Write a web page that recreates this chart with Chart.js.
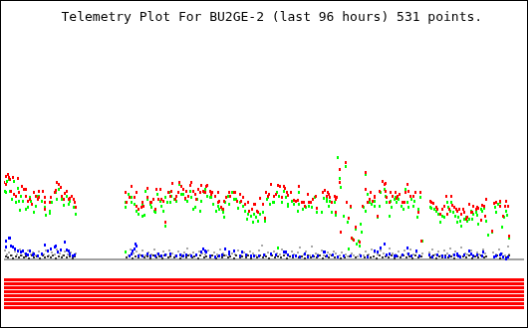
<!DOCTYPE html>
<html lang="en">
<head>
    <meta charset="UTF-8">
    <title>Telemetry Plot For BU2GE-2</title>
    <script src="https://cdn.jsdelivr.net/npm/chart.js"></script>
    <style>
        body {
            margin: 0;
            padding: 0;
            background: #fff;
        }
        #telemetryChart {
            display: block;
            border: 1px solid #000;
            background: #fff;
        }
    </style>
</head>
<body>
    <canvas id="telemetryChart" width="528" height="328"></canvas>

    <script>
        // Telemetry readings, [hours, value]
        const redChannel = [
            [0.0,7.8],[0.4,7.6],[0.4,8.4],[0.7,8.6],[0.9,8.3],[1.1,8.1],[1.3,6.9],[1.6,8.3],[1.8,6.6],[2.2,6.4],
            [2.5,8.2],[2.7,6.8],[3.3,7.4],[3.6,7.1],[4.0,7.1],[4.0,6.4],[4.4,5.9],[4.7,6.1],[5.1,5.6],[5.6,6.8],
            [5.8,6.4],[6.2,6.1],[6.4,6.9],[6.5,6.3],[7.1,6.9],[7.5,5.8],[7.6,6.3],[7.6,5.1],[8.4,5.8],[8.7,6.3],
            [9.3,6.8],[9.5,7.0],[9.8,7.8],[10.2,7.6],[10.4,7.3],[10.7,6.4],[11.1,6.1],[11.3,6.7],[11.6,6.9],[12.0,6.1],
            [12.2,6.2],[12.5,6.4],[12.9,6.1],[13.1,5.8],[13.3,5.3],
            [22.5,6.8],[22.7,5.8],[23.1,6.3],[23.5,7.4],[24.0,6.3],[24.4,6.8],[24.5,5.4],[24.9,5.1],[25.3,5.3],[25.6,5.8],
            [25.8,5.4],[26.4,7.2],[26.5,6.3],[27.1,5.8],[27.3,5.8],[27.6,6.1],[28.0,5.1],[28.2,7.1],[28.5,6.1],[28.9,7.1],
            [29.1,6.1],[29.5,5.9],[29.8,3.8],[30.4,6.8],[30.7,6.4],[30.9,6.9],[31.1,7.7],[31.6,6.1],[31.8,6.4],[32.2,6.8],
            [32.4,7.8],[32.7,7.4],[33.1,7.1],[33.5,6.2],[33.6,6.9],[34.0,6.4],[34.4,7.5],[34.5,7.8],[34.9,6.9],[35.3,6.6],
            [35.5,6.1],[35.8,7.1],[36.2,6.8],[36.4,7.5],[36.7,6.9],[37.1,6.8],[37.3,7.4],[37.6,7.5],[38.0,6.9],[38.2,6.6],
            [38.5,6.8],[38.9,6.4],[39.5,5.8],[39.6,6.8],[39.8,5.9],[40.0,5.3],[40.4,5.1],
            [40.7,5.9],[41.1,6.3],[41.5,6.8],[41.8,6.4],[42.4,6.8],[42.7,6.8],[43.1,5.9],[43.5,6.6],[43.8,5.9],[44.2,6.3],
            [44.5,5.6],[45.1,5.8],[45.3,4.9],[45.8,5.1],[46.2,5.6],[46.4,5.6],[46.7,4.9],[46.9,4.8],[47.3,6.2],[47.8,5.6],
            [48.2,4.2],[48.4,6.8],[48.7,6.4],[48.9,6.6],[49.3,7.6],[49.8,6.4],[50.2,6.6],[50.5,7.5],[50.9,7.4],[51.3,6.3],
            [51.6,7.4],[51.8,7.2],[52.2,6.8],[52.5,6.5],[52.9,6.8],[53.5,6.0],[53.8,5.9],[54.2,6.0],[54.5,7.4],[54.9,5.8],
            [55.3,5.8],[55.6,5.4],[56.0,6.6],[56.2,5.8],[56.7,5.8],[57.1,6.1],[57.5,6.4],[57.8,5.2],[58.9,6.8],[59.3,7.0],
            [59.5,6.4],[59.8,6.8],[60.0,6.6],[60.2,6.3],[60.5,5.8],[61.1,6.4],[61.3,6.1],[61.3,4.8],[61.5,6.3],[62.0,9.1],
            [62.0,7.8],[62.2,2.8],[63.1,9.8],[63.3,5.8],[63.6,4.2],[64.0,5.4],[64.2,2.2],[64.5,2.0],[64.9,3.3],[65.6,1.8],
            [66.2,5.4],[66.7,8.8],[66.7,7.1],[67.1,5.8],[67.5,6.1],[67.6,6.8],[68.0,5.9],[68.4,6.3],[68.5,6.4],[68.9,4.4],
            [69.3,6.9],[69.8,7.9],[70.2,7.6],[70.4,7.7],[70.4,6.9],[70.7,6.3],[71.1,5.8],[71.3,6.8],[71.8,6.4],[72.2,6.8],
            [72.4,6.2],[72.7,6.4],[73.1,6.6],[73.6,5.8],[74.0,5.8],[74.2,6.8],[74.5,7.6],[74.7,6.9],[75.1,6.4],[75.6,6.4],
            [76.0,6.8],[76.5,4.8],[76.9,6.8],[77.1,1.9],
            [78.7,5.9],[78.9,5.8],[79.3,5.7],[79.8,5.3],[80.0,5.1],[80.5,4.6],[80.9,5.1],[81.3,5.4],[81.6,6.4],[81.8,4.6],
            [82.2,5.1],[82.5,6.4],[82.7,5.5],[83.1,5.3],[83.5,5.1],[83.6,4.9],[84.0,5.1],[84.4,4.6],[84.7,5.1],[84.9,4.8],
            [85.3,4.1],[85.5,4.3],[85.8,5.6],[86.2,4.8],[86.4,4.8],[86.7,5.4],[87.1,5.1],[87.3,5.3],[87.6,5.2],[88.0,4.0],
            [88.2,5.5],[88.7,5.4],[88.9,4.4],[89.1,6.1],[90.2,2.9],[90.5,5.7],[90.9,5.8],[91.5,5.9],[91.6,5.4],[92.2,4.4],
            [92.5,5.4],[92.7,5.9],[93.1,5.4],[93.3,2.4]
        ];

        const greenChannel = [
            [0.2,6.9],[0.4,6.8],[0.5,7.9],[0.9,8.1],[1.1,6.9],[1.5,6.1],[1.8,7.9],[2.2,5.8],[2.5,7.2],[2.7,5.9],
            [2.9,5.0],[3.1,6.4],[3.5,5.9],[4.0,5.1],[4.4,5.3],[4.7,6.3],[4.9,5.9],[5.5,4.8],[5.8,5.4],[6.2,6.4],
            [6.5,6.4],[6.9,5.9],[7.5,5.3],[7.8,4.5],[8.4,4.9],[8.5,4.7],[8.9,5.8],[9.5,6.8],[9.8,6.1],[10.2,7.1],
            [10.7,6.1],[11.1,5.5],[11.6,6.4],[12.0,5.6],[12.2,5.9],[12.9,5.3],[13.3,4.6],
            [22.4,0.8],[22.5,5.3],[22.5,5.8],[22.9,6.6],[23.5,6.3],[23.6,5.8],[24.0,5.6],[24.5,4.9],[24.9,4.6],[25.5,4.4],
            [25.5,5.5],[26.0,4.5],[26.2,6.9],[26.5,6.1],[27.1,5.6],[27.3,5.3],[27.8,4.9],[28.0,4.8],[28.4,6.6],[28.9,5.9],
            [29.1,5.4],[29.5,4.9],[29.8,6.3],[29.8,3.4],[30.2,5.8],[30.5,6.8],[30.7,5.8],[30.9,6.4],[31.5,6.1],[31.8,5.9],
            [32.4,7.6],[32.7,6.6],[33.1,6.6],[33.5,6.1],[33.8,5.9],[34.4,6.9],[34.5,6.3],[34.9,5.1],[35.3,5.3],[35.6,6.1],
            [36.2,4.9],[36.4,5.9],[36.9,6.8],[37.1,7.1],[37.6,6.4],[38.0,6.3],[38.2,6.3],[38.7,5.6],[39.1,4.9],[39.5,5.4],
            [39.8,5.1],[40.2,5.1],[40.4,4.8],
            [40.7,4.3],[40.9,5.8],[41.3,6.4],[41.6,5.6],[42.2,6.8],[42.5,6.1],[42.9,6.1],[43.3,5.2],[43.6,5.8],[44.2,5.4],
            [44.5,4.9],[44.9,4.1],[45.1,4.6],[45.6,4.4],[46.0,3.8],[46.2,4.6],[46.5,4.3],[46.9,3.9],[47.3,4.6],[47.8,4.8],
            [48.2,3.9],[48.5,6.1],[48.7,6.3],[49.1,5.6],[49.6,5.8],[49.8,5.8],[50.4,6.8],[50.5,1.2],[50.7,6.4],[51.3,5.8],
            [51.6,6.9],[52.0,6.3],[52.4,5.6],[52.5,5.4],[53.1,5.9],[53.5,5.6],[54.2,4.9],[54.4,5.6],[54.5,6.8],[55.1,5.1],
            [55.5,5.4],[55.8,5.3],[56.2,5.4],[56.9,5.3],[57.3,6.3],[57.8,4.8],[58.7,4.8],[59.1,6.2],
            [59.5,6.1],[59.6,5.9],[60.0,5.4],[60.2,5.9],[60.5,4.8],[61.1,5.8],[61.3,4.5],[61.6,10.3],[62.0,8.2],[62.2,7.3],
            [62.7,4.4],[63.1,9.4],[63.5,3.8],[63.6,1.1],[64.0,5.3],[64.4,2.1],[64.9,3.1],[65.1,1.6],[65.5,1.9],[65.6,1.4],
            [65.8,3.6],[66.0,2.8],[66.4,5.3],[66.7,4.9],[66.8,8.6],[67.1,6.6],[67.5,5.8],[67.8,5.6],[68.4,5.9],[68.5,5.4],
            [68.9,4.3],[69.3,5.4],[69.6,6.8],[70.2,7.1],[70.4,6.4],[70.7,5.8],[71.1,4.4],[71.3,5.9],[71.6,5.3],[72.0,6.1],
            [72.2,6.3],[72.5,5.8],[72.9,6.1],[73.3,5.4],[73.8,5.1],[74.2,7.1],[74.5,5.8],[74.7,5.3],[75.3,6.1],[75.6,5.4],
            [75.8,5.9],[76.4,4.3],[76.5,5.1],[76.9,6.3],[77.3,1.9],
            [78.7,5.3],[78.9,5.2],[79.5,5.1],[79.8,4.9],[80.2,4.6],[80.5,3.8],[80.9,4.4],[81.3,4.3],[81.8,5.8],[82.0,5.3],
            [82.4,4.9],[82.5,5.8],[82.9,4.8],[83.3,4.4],[83.6,3.8],[83.8,4.3],[84.2,3.9],[84.5,3.4],[84.9,4.1],[85.3,4.3],
            [85.5,3.9],[85.8,4.1],[86.2,4.9],[86.4,4.1],[86.7,4.6],[87.1,4.8],[87.3,4.5],[87.6,3.6],[88.0,5.1],[88.2,4.9],
            [88.7,5.2],[89.1,3.9],[89.3,2.5],[90.2,2.8],[90.7,5.3],[90.9,4.8],[91.3,5.6],[91.5,5.8],[91.6,5.4],[92.0,3.3],
            [92.4,4.3],[92.7,4.9],[92.9,4.5],[93.3,2.2]
        ];

        const blueChannel = [
            [0.4,1.9],[0.4,1.3],[0.9,2.2],[1.1,2.2],[1.3,1.4],[1.6,1.3],[2.0,1.1],[2.5,0.9],[3.1,0.8],[3.5,0.9],
            [4.0,0.6],[4.4,0.5],[4.7,0.9],[5.3,0.5],[5.6,0.6],[6.2,0.4],[6.9,0.6],[7.5,1.5],[8.0,0.9],[8.7,1.1],
            [9.3,1.3],[9.5,1.4],[10.0,0.8],[10.4,1.0],[11.3,1.8],[11.6,1.0],[12.0,0.9],[12.2,0.6],[12.7,0.4],[13.1,0.5],
            [22.5,0.8],[23.1,0.4],[23.5,0.6],[23.8,0.9],[24.0,1.1],[24.2,1.6],[24.4,1.4],[24.9,0.4],[25.6,0.4],[26.4,0.6],
            [27.1,0.4],[28.0,0.4],[28.5,0.6],[29.1,0.4],[29.8,0.5],[30.7,0.6],[31.8,0.4],[32.5,0.5],[33.1,0.4],[33.6,0.5],
            [34.5,0.4],[35.5,0.5],[36.4,0.8],[36.7,1.1],[37.1,0.9],[37.3,0.8],[38.0,0.4],[38.9,0.3],[39.8,0.4],[40.2,0.5],
            [40.9,1.1],[41.5,0.6],[41.6,0.8],[42.5,0.9],[43.5,0.4],[44.0,0.8],[44.7,0.5],[45.6,0.4],[46.2,0.4],[47.1,0.4],
            [48.0,0.5],[49.3,0.6],[50.2,0.5],[51.6,0.8],[52.0,0.8],[52.4,0.5],[53.3,0.4],[53.8,0.4],[54.7,0.3],[55.6,0.6],
            [56.0,0.3],[57.1,0.4],[58.0,0.4],[59.1,0.8],[59.3,0.8],[59.5,0.4],[60.7,0.5],[61.6,0.3],[62.7,0.4],[64.0,0.4],
            [65.8,0.4],[67.1,0.3],[68.4,0.9],[68.9,0.8],[69.5,1.2],[70.2,1.6],[70.7,0.5],[71.1,0.6],[72.0,0.4],[72.5,0.4],
            [73.5,0.5],[74.4,1.2],[74.7,0.6],[75.3,0.4],[76.2,0.9],[76.7,0.4],[78.5,0.5],[79.1,0.3],[80.0,0.5],[80.9,0.4],
            [81.5,0.3],[82.2,0.4],[83.1,0.5],[83.6,0.6],[83.8,0.4],[84.2,0.3],[84.9,0.5],[85.8,0.9],[86.2,0.6],[86.7,0.4],
            [87.3,0.5],[88.2,0.4],[88.5,0.8],[90.4,0.3],[90.9,0.4],[91.5,0.5],[91.8,0.6],[92.2,0.3],[92.7,0.1],[93.1,0.3]
        ];

        const grayChannel = [
            [0.1,0.9],[0.5,0.5],[1.0,0.7],[1.5,0.4],[2.0,0.8],[2.4,0.5],[2.9,1.0],[3.4,0.4],[3.9,0.6],[4.4,0.9],
            [4.9,0.5],[5.4,0.7],[5.9,0.4],[6.4,0.8],[6.9,0.6],[7.3,0.5],[7.8,0.9],[8.3,0.4],[8.8,0.7],[9.3,0.5],
            [9.8,1.0],[10.3,0.6],[10.8,0.4],[11.3,0.8],[11.8,0.5],[12.3,0.7],[12.8,0.4],[13.3,0.6],
            [22.4,0.7],[22.9,0.4],[23.4,1.0],[23.9,0.6],[24.5,0.8],[25.0,0.5],[25.6,0.9],[26.1,0.4],[26.7,0.7],[27.2,0.5],
            [27.8,1.0],[28.3,0.6],[28.9,0.4],[29.4,0.8],[30.0,0.5],[30.5,0.9],[31.1,0.6],[31.6,0.4],[32.2,0.8],[32.7,0.5],
            [33.3,0.7],[33.8,1.1],[34.4,0.5],[34.9,0.7],[35.5,0.4],[36.0,0.8],[36.6,0.6],[37.1,0.5],[37.7,0.9],[38.2,0.4],
            [38.8,0.7],[39.3,0.5],[39.9,1.0],[40.4,0.6],[41.0,0.4],[41.5,0.8],[42.1,0.6],[42.6,0.5],[43.2,0.9],[43.7,0.4],
            [44.3,0.7],[44.8,0.5],[45.4,0.8],[45.9,0.6],[46.5,0.4],[47.0,0.9],[47.6,1.4],[48.1,0.5],[48.7,0.7],[49.2,0.4],
            [49.8,0.8],[50.3,0.6],[50.9,0.5],[51.4,1.0],[52.0,0.6],[52.5,0.4],[53.1,0.8],[53.6,0.5],[54.2,0.7],[54.7,1.2],
            [55.3,0.5],[55.8,0.8],[56.4,0.4],[56.9,1.3],[57.5,0.6],[58.0,0.5],[58.6,0.9],[59.1,0.4],[59.7,0.7],[60.2,0.5],
            [60.8,0.8],[61.3,0.6],[61.9,0.4],[62.4,0.7],[63.0,0.5],[63.5,0.3],[64.1,0.6],[64.6,0.4],[65.2,0.3],[65.7,0.5],
            [66.3,0.4],[66.8,0.8],[67.4,0.5],[67.9,1.0],[68.5,0.7],[69.0,0.5],[69.6,0.9],[70.1,0.6],[70.7,0.4],[71.2,1.1],
            [71.8,0.6],[72.3,0.5],[72.9,0.8],[73.4,0.4],[74.0,0.9],[74.5,0.6],[75.1,1.0],[75.6,0.5],[76.2,0.7],[76.7,0.4],
            [77.2,0.6],[78.5,0.7],[79.0,1.0],[79.6,0.5],[80.1,0.8],[80.7,0.4],[81.2,0.9],[81.8,0.6],[82.3,1.1],[82.9,0.5],
            [83.4,0.8],[84.0,0.4],[84.5,1.2],[85.1,0.6],[85.6,0.5],[86.2,0.9],[86.7,0.4],[87.3,0.7],[87.8,0.5],[88.4,1.0],
            [88.9,0.6],[90.3,0.7],[90.8,0.5],[91.4,1.0],[91.9,0.6],[92.5,0.4],[93.0,1.3],[93.3,0.5]
        ];

        const darkChannel = [
            [0.3,0.3],[0.8,0.2],[1.2,0.4],[1.7,0.1],[2.2,0.3],[2.7,0.2],[3.2,0.4],[3.6,0.2],[4.1,0.3],[4.6,0.1],
            [5.1,0.4],[5.6,0.2],[6.1,0.3],[6.6,0.1],[7.1,0.4],[7.6,0.2],[8.1,0.3],[8.6,0.2],[9.1,0.4],[9.6,0.1],
            [10.1,0.3],[10.6,0.2],[11.1,0.4],[11.6,0.2],[12.1,0.3],[12.6,0.1],[13.0,0.3],
            [22.6,0.2],[23.1,0.4],[23.7,0.1],[24.2,0.3],[24.8,0.2],[25.3,0.4],[25.9,0.2],[26.4,0.3],[27.0,0.1],[27.5,0.4],
            [28.1,0.2],[28.6,0.3],[29.2,0.1],[29.7,0.4],[30.3,0.2],[30.8,0.3],[31.4,0.2],[31.9,0.4],[32.5,0.1],[33.0,0.3],
            [33.6,0.2],[34.1,0.4],[34.7,0.2],[35.2,0.3],[35.8,0.1],[36.3,0.4],[36.9,0.2],[37.4,0.3],[38.0,0.2],[38.5,0.4],
            [39.1,0.1],[39.6,0.3],[40.2,0.2],[40.7,0.4],[41.3,0.2],[41.8,0.3],[42.4,0.1],[42.9,0.4],[43.5,0.2],[44.0,0.3],
            [44.6,0.2],[45.1,0.4],[45.7,0.1],[46.2,0.3],[46.8,0.2],[47.3,0.4],[47.9,0.2],[48.4,0.3],[49.0,0.1],[49.5,0.4],
            [50.1,0.2],[50.6,0.3],[51.2,0.2],[51.7,0.4],[52.3,0.1],[52.8,0.3],[53.4,0.2],[53.9,0.4],[54.5,0.2],[55.0,0.3],
            [55.6,0.1],[56.1,0.4],[56.7,0.2],[57.2,0.3],[57.8,0.2],[58.3,0.4],[58.9,0.1],[59.4,0.3],[60.0,0.2],[60.5,0.4],
            [61.1,0.2],[61.6,0.3],[62.2,0.1],[62.9,0.2],[63.8,0.3],[64.9,0.2],[65.9,0.3],[66.6,0.2],[67.1,0.4],[67.7,0.2],
            [68.2,0.3],[68.8,0.1],[69.3,0.4],[69.9,0.2],[70.4,0.3],[71.0,0.2],[71.5,0.4],[72.1,0.1],[72.6,0.3],[73.2,0.2],
            [73.7,0.4],[74.3,0.2],[74.8,0.3],[75.4,0.1],[75.9,0.4],[76.5,0.2],[77.0,0.3],[78.7,0.2],[79.3,0.4],[79.8,0.1],
            [80.4,0.3],[80.9,0.2],[81.5,0.4],[82.0,0.2],[82.6,0.3],[83.1,0.1],[83.7,0.4],[84.2,0.2],[84.8,0.3],[85.3,0.2],
            [85.9,0.4],[86.4,0.1],[87.0,0.3],[87.5,0.2],[88.1,0.4],[88.6,0.2],[89.1,0.3],[90.5,0.2],[91.1,0.4],[91.6,0.1],
            [92.2,0.3],[92.7,0.2],[93.2,0.4]
        ];

        // status bit bands drawn under the baseline
        const bitLevels = [-2.05, -2.45, -2.85, -3.25, -3.65, -4.05, -4.45, -4.85];
        const hourRange = [0, 96];

        // small solid marker images so points come out as tiny blocks
        function marker(color, w, h) {
            const c = document.createElement('canvas');
            c.width = w;
            c.height = h;
            const g = c.getContext('2d');
            g.fillStyle = color;
            g.fillRect(0, 0, w, h);
            return c;
        }

        function toPoints(rows) {
            return rows.map(r => ({ x: r[0], y: r[1] }));
        }

        function pointSet(label, rows, color, w, h) {
            return {
                type: 'scatter',
                label: label,
                data: toPoints(rows),
                pointStyle: marker(color, w, h),
                pointRadius: 2,
                pointHoverRadius: 2,
                backgroundColor: color,
                borderColor: color
            };
        }

        const datasets = [
            pointSet('Red', redChannel, '#ff0000', 2, 3),
            pointSet('Green', greenChannel, '#00ff00', 2, 3),
            pointSet('Blue', blueChannel, '#0000ff', 2, 3),
            pointSet('Dark', darkChannel, '#303030', 2, 2),
            pointSet('Gray', grayChannel, '#a8a8a8', 2, 2),
            {
                type: 'line',
                label: 'Baseline',
                data: hourRange.map(h => ({ x: h, y: 0 })),
                borderColor: '#a0a0a0',
                borderWidth: 2,
                pointRadius: 0
            }
        ];

        bitLevels.forEach((lvl, i) => {
            datasets.push({
                type: 'line',
                label: 'Bit ' + (i + 1),
                data: hourRange.map(h => ({ x: h, y: lvl })),
                borderColor: '#ff0000',
                borderWidth: 3,
                pointRadius: 0
            });
        });

        const crispPoints = {
            id: 'crispPoints',
            beforeDatasetsDraw(chart) {
                chart.ctx.imageSmoothingEnabled = false;
            }
        };

        new Chart(document.getElementById('telemetryChart'), {
            type: 'scatter',
            data: { datasets: datasets },
            plugins: [crispPoints],
            options: {
                responsive: false,
                animation: false,
                events: [],
                layout: { padding: { left: 0, right: 0, top: 0, bottom: 8 } },
                scales: {
                    x: { type: 'linear', min: 0, max: 96, display: false },
                    y: { type: 'linear', min: -6, max: 22, display: false }
                },
                plugins: {
                    legend: { display: false },
                    tooltip: { enabled: false },
                    title: {
                        display: true,
                        // two leading spaces nudge the centred title right, as in the original
                        text: '  Telemetry Plot For BU2GE-2 (last 96 hours) 531 points.',
                        color: '#000',
                        font: { family: '"DejaVu Sans Mono", monospace', size: 13, weight: 'normal', lineHeight: '16px' },
                        padding: { top: 9, bottom: 15 }
                    }
                }
            }
        });
    </script>
</body>
</html>
